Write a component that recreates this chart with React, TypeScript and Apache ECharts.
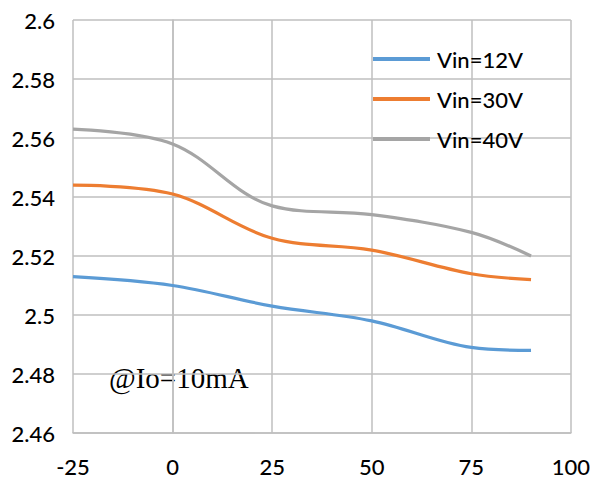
import React, { useEffect, useRef } from "react";
import * as echarts from "echarts";

const xValues = [-25, 0, 25, 50, 75, 90];
const vin12 = [2.513, 2.51, 2.503, 2.498, 2.489, 2.488];
const vin30 = [2.544, 2.541, 2.526, 2.522, 2.514, 2.512];
const vin40 = [2.563, 2.558, 2.537, 2.534, 2.528, 2.52];
const seriesNames = ["Vin=12V", "Vin=30V", "Vin=40V"];
const seriesColors = ["#5b9bd5", "#ed7d31", "#a5a5a5"];
const annotation = "@Io=10mA";

const sansFont = "Lato, 'Open Sans', sans-serif";

export default function App() {
  const ref = useRef<HTMLDivElement>(null);
  useEffect(() => {
    if (!ref.current) return;
    const chart = echarts.init(ref.current, undefined, { renderer: "svg" });
    const datas = [vin12, vin30, vin40];
    chart.setOption({
      animation: false,
      backgroundColor: "#ffffff",
      grid: { left: 73, right: 20, top: 20, bottom: 47 },
      xAxis: {
        type: "value",
        min: -25,
        max: 100,
        interval: 25,
        axisLine: { show: true, lineStyle: { color: "#bfbfbf", width: 1.5 } },
        axisTick: { show: false },
        splitLine: { show: true, lineStyle: { color: "#bfbfbf", width: 1.5 } },
        axisLabel: { color: "#000", fontSize: 22, fontFamily: sansFont, fontWeight: 500, margin: 22 },
      },
      yAxis: {
        type: "value",
        min: 2.46,
        max: 2.6,
        interval: 0.02,
        axisLine: { show: true, lineStyle: { color: "#bfbfbf", width: 1.5 } },
        axisTick: { show: false },
        splitLine: { show: true, lineStyle: { color: "#bfbfbf", width: 1.5 } },
        axisLabel: {
          color: "#000",
          fontSize: 22,
          fontFamily: sansFont,
          fontWeight: 500,
          margin: 18,
          formatter: (v: number) => String(parseFloat(v.toFixed(2))),
        },
      },
      legend: {
        orient: "vertical",
        left: 373,
        top: 48,
        padding: 0,
        itemWidth: 57,
        itemHeight: 4,
        itemGap: 18,
        icon: "rect",
        textStyle: { color: "#000", fontSize: 22, fontFamily: sansFont, fontWeight: 500, padding: [0, 0, 0, 2] },
        data: seriesNames,
      },
      graphic: [
        {
          type: "group",
          left: 100,
          top: 350,
          children: [
            { type: "rect", shape: { x: 0, y: 0, width: 190, height: 54 }, style: { fill: "#ffffff" } },
            {
              type: "text",
              x: 9,
              y: 28,
              style: {
                text: annotation,
                fill: "#000",
                font: "29px 'Liberation Serif', serif",
                verticalAlign: "middle",
              },
            },
          ],
        },
      ],
      series: seriesNames.map((name, i) => ({
        name,
        type: "line",
        smooth: 0.35,
        symbol: "none",
        lineStyle: { color: seriesColors[i], width: 3.2 },
        itemStyle: { color: seriesColors[i] },
        data: xValues.map((x, j) => [x, datas[i][j]]),
      })),
    });
    return () => chart.dispose();
  }, []);
  return <div ref={ref} style={{ position: "absolute", left: 0, top: 0, width: 593, height: 480 }} />;
}
